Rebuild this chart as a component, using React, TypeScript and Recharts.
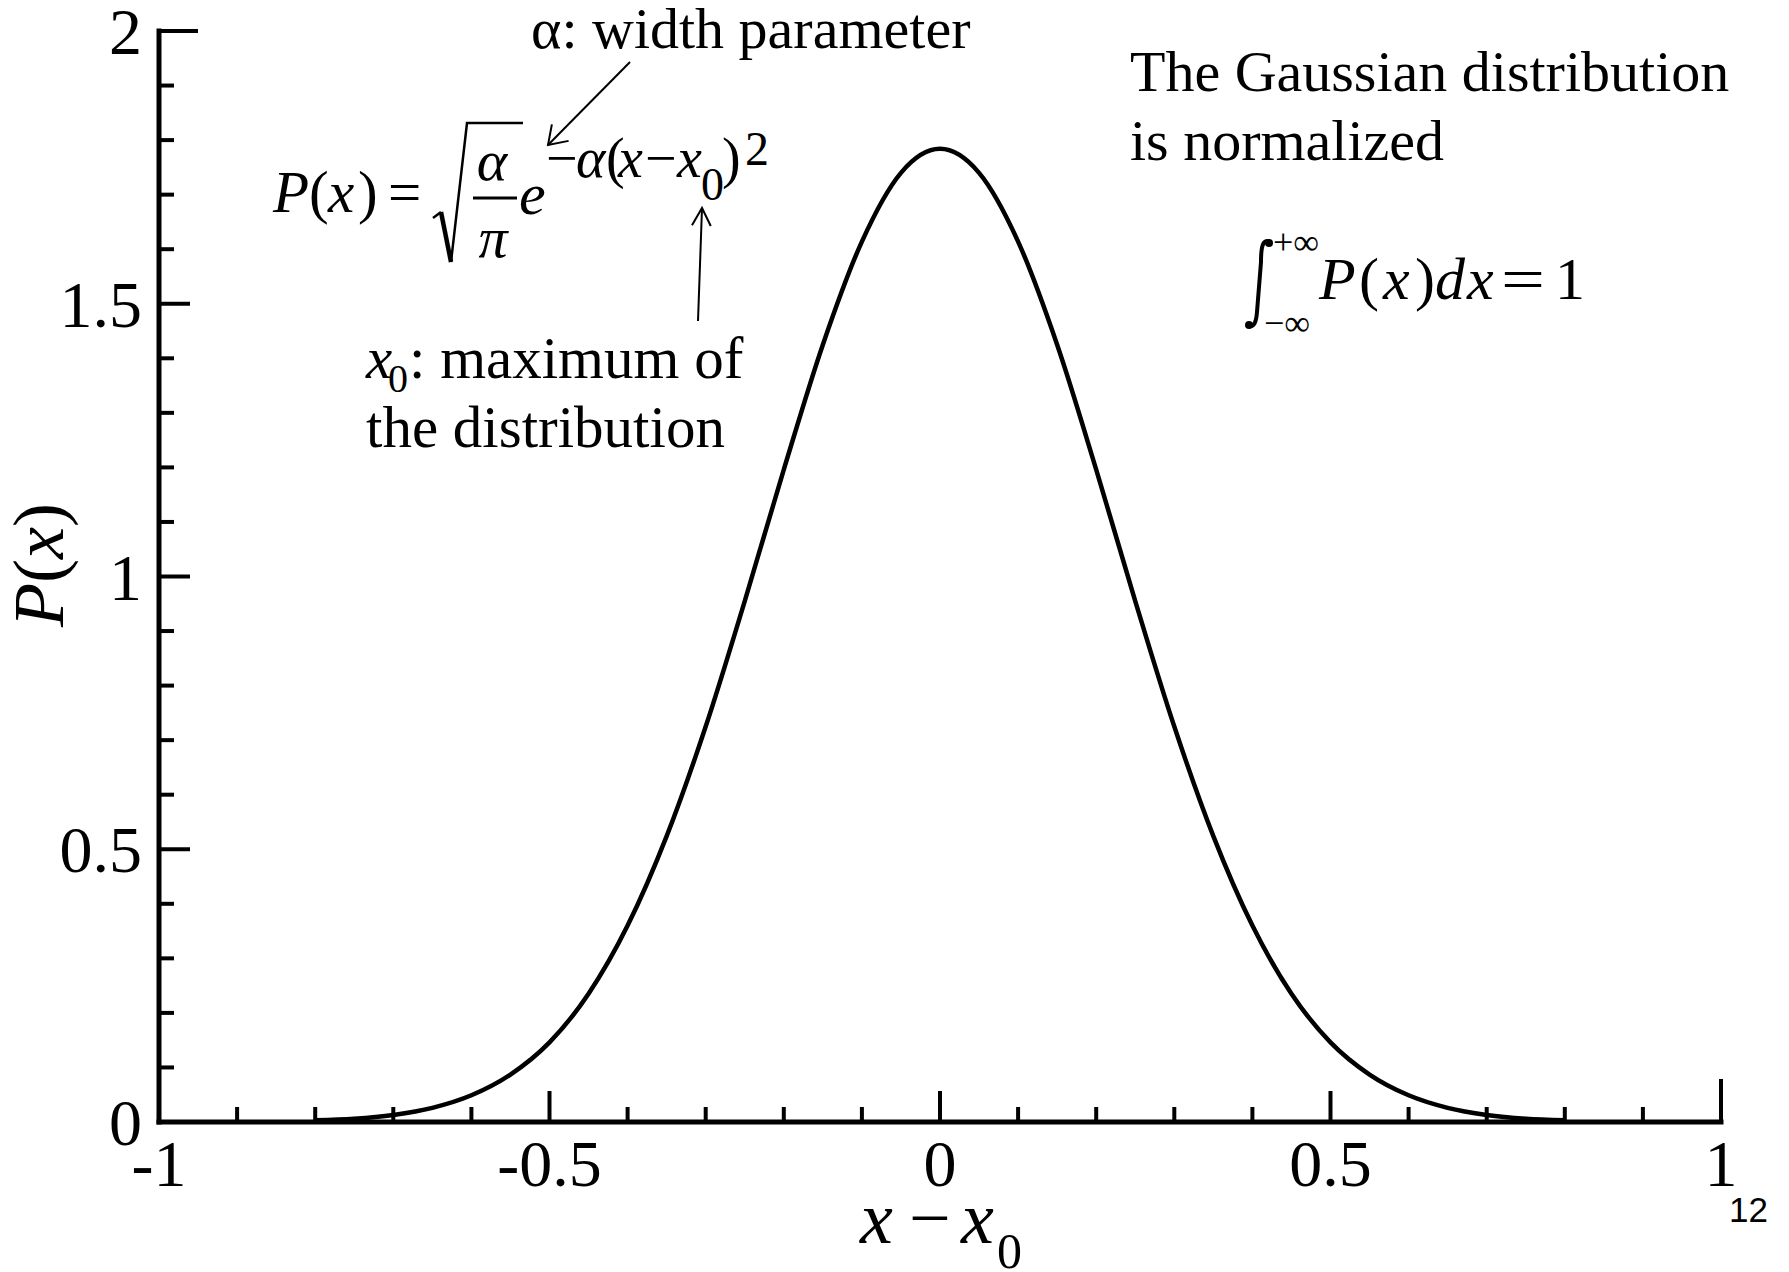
import React from 'react';
import { LineChart, Line, XAxis, YAxis } from 'recharts';

// Normalized Gaussian P(x) sampled at x - x0 (alpha = 10)
const xValues = [
  -0.8, -0.75, -0.7, -0.65, -0.6, -0.55, -0.5, -0.45, -0.4, -0.35, -0.3, -0.25, -0.2, -0.15, -0.1, -0.05,
  0, 0.05, 0.1, 0.15, 0.2, 0.25, 0.3, 0.35, 0.4, 0.45, 0.5, 0.55, 0.6, 0.65, 0.7, 0.75, 0.8,
];
const pValues = [
  0.003, 0.006, 0.013, 0.026, 0.049, 0.087, 0.146, 0.235, 0.36, 0.524, 0.725, 0.955, 1.196, 1.425, 1.614, 1.74,
  1.784, 1.74, 1.614, 1.425, 1.196, 0.955, 0.725, 0.524, 0.36, 0.235, 0.146, 0.087, 0.049, 0.026, 0.013, 0.006, 0.003,
];

// Axis ticks: every tick value, and the labelled (major) ones
const xTicks = [-1, -0.9, -0.8, -0.7, -0.6, -0.5, -0.4, -0.3, -0.2, -0.1, 0, 0.1, 0.2, 0.3, 0.4, 0.5, 0.6, 0.7, 0.8, 0.9, 1];
const xMajor = [-1, -0.5, 0, 0.5, 1];
const xMajorLabels = ['-1', '-0.5', '0', '0.5', '1'];
const yTicks = [0, 0.1, 0.2, 0.3, 0.4, 0.5, 0.6, 0.7, 0.8, 0.9, 1, 1.1, 1.2, 1.3, 1.4, 1.5, 1.6, 1.7, 1.8, 1.9, 2];
const yMajor = [0, 0.5, 1, 1.5, 2];
const yMajorLabels = ['0', '0.5', '1', '1.5', '2'];

const data = xValues.map((x, i) => ({ x, p: pValues[i] }));

const SERIF = '"Liberation Serif", "Times New Roman", Times, serif';
const SANS = '"Liberation Sans", Arial, sans-serif';

const findLabel = (v: number, majors: number[], labels: string[]) => {
  const i = majors.findIndex((m) => Math.abs(m - v) < 1e-6);
  return i >= 0 ? labels[i] : null;
};

const XTick = (props: any) => {
  const { x, y, payload } = props;
  const v = payload.value as number;
  const label = findLabel(v, xMajor, xMajorLabels);
  const isEnd = Math.abs(v - 1) < 1e-6;
  const len = isEnd ? 43 : label ? 31 : 15;
  return (
    <g>
      <line x1={x} x2={x} y1={y} y2={y - len} stroke="#000" strokeWidth={4} />
      {label && (
        <text x={x} y={y + 64} textAnchor="middle" fontFamily={SERIF} fontSize={66} fill="#000">
          {label}
        </text>
      )}
    </g>
  );
};

const YTick = (props: any) => {
  const { x, y, payload } = props;
  const v = payload.value as number;
  const label = findLabel(v, yMajor, yMajorLabels);
  const isEnd = Math.abs(v - 2) < 1e-6;
  const len = isEnd ? 39 : label ? 31 : 15;
  return (
    <g>
      <line x1={x} x2={x + len} y1={y} y2={y} stroke="#000" strokeWidth={4} />
      {label && (
        <text x={x - 17} y={y + 23} textAnchor="end" fontFamily={SERIF} fontSize={66} fill="#000">
          {label}
        </text>
      )}
    </g>
  );
};

// Open arrowhead helper for annotation arrows
const Arrow = ({ x1, y1, x2, y2, head = 20, spread = 32 }: any) => {
  const a = Math.atan2(y1 - y2, x1 - x2);
  const s = (spread * Math.PI) / 180;
  const p1 = [x2 + head * Math.cos(a + s), y2 + head * Math.sin(a + s)];
  const p2 = [x2 + head * Math.cos(a - s), y2 + head * Math.sin(a - s)];
  return (
    <g stroke="#000" strokeWidth={2} fill="none">
      <line x1={x1} y1={y1} x2={x2} y2={y2} />
      <polyline points={`${p1[0]},${p1[1]} ${x2},${y2} ${p2[0]},${p2[1]}`} />
    </g>
  );
};

const Annotations = () => (
  <svg
    width={1789}
    height={1272}
    style={{ position: 'absolute', left: 0, top: 0, pointerEvents: 'none' }}
    fontFamily={SERIF}
    fill="#000"
  >
    {/* y-axis title */}
    <text x={63} y={565} transform="rotate(-90, 63, 565)" textAnchor="middle" fontSize={72}>
      <tspan fontStyle="italic">P</tspan>(<tspan fontStyle="italic">x</tspan>)
    </text>

    {/* x-axis title */}
    <text y={1243} fontSize={74}>
      <tspan x={860} fontStyle="italic">x</tspan>
      <tspan x={909}>−</tspan>
      <tspan x={961} fontStyle="italic">x</tspan>
      <tspan x={997} y={1268} fontSize={50}>0</tspan>
    </text>

    {/* formula P(x) = sqrt(alpha/pi) e^{-alpha (x-x0)^2} */}
    <text y={212} fontSize={59}>
      <tspan x={273} fontStyle="italic">P</tspan>
      <tspan x={309}>(</tspan>
      <tspan x={328} fontStyle="italic">x</tspan>
      <tspan x={358}>)</tspan>
      <tspan x={388}>=</tspan>
    </text>
    <path d="M 433 218 L 441 212" stroke="#000" strokeWidth={2.5} fill="none" />
    <path d="M 441 212 L 451 262" stroke="#000" strokeWidth={4.5} fill="none" />
    <path d="M 451 262 L 467 123 L 523 123" stroke="#000" strokeWidth={2.5} fill="none" />
    <text x={492} y={180} fontSize={58} fontStyle="italic" textAnchor="middle">α</text>
    <line x1={473} x2={517} y1={198} y2={198} stroke="#000" strokeWidth={3} />
    <text x={493} y={257} fontSize={58} fontStyle="italic" textAnchor="middle">π</text>
    <text x={519} y={214} fontSize={60} fontStyle="italic">e</text>
    <text y={177} fontSize={56}>
      <tspan x={546}>−</tspan>
      <tspan x={576} fontStyle="italic">α</tspan>
      <tspan x={606}>(</tspan>
      <tspan x={618} fontStyle="italic">x</tspan>
      <tspan x={645}>−</tspan>
      <tspan x={677} fontStyle="italic">x</tspan>
      <tspan x={701} y={200} fontSize={46}>0</tspan>
      <tspan x={722} y={177}>)</tspan>
      <tspan x={745} y={165} fontSize={48}>2</tspan>
    </text>

    {/* width parameter note */}
    <text x={531} y={48} fontSize={58}>α: width parameter</text>
    <Arrow x1={630} y1={62} x2={548} y2={145} head={21} spread={34} />

    {/* maximum note */}
    <Arrow x1={698} y1={321} x2={702} y2={208} head={20} spread={28} />
    <text y={378} fontSize={59}>
      <tspan x={366} fontStyle="italic">x</tspan>
      <tspan x={388} y={392} fontSize={40}>0</tspan>
      <tspan x={409} y={378}>: maximum of</tspan>
    </text>
    <text x={366} y={447} fontSize={59}>the distribution</text>

    {/* normalization note */}
    <text x={1130} y={91} fontSize={58}>The Gaussian distribution</text>
    <text x={1130} y={160} fontSize={58}>is normalized</text>
    <path
      d="M 1271 243 C 1262 236, 1261 250, 1261 262 L 1257 312 C 1256 326, 1252 328, 1247 325"
      stroke="#000"
      strokeWidth={4}
      fill="none"
    />
    <circle cx={1269} cy={243} r={4} />
    <circle cx={1249} cy={325} r={4} />
    <text x={1273} y={254} fontSize={36}>+∞</text>
    <text x={1264} y={335} fontSize={36}>−∞</text>
    <text y={299} fontSize={60}>
      <tspan x={1319} fontStyle="italic">P</tspan>
      <tspan x={1359}>(</tspan>
      <tspan x={1383} fontStyle="italic">x</tspan>
      <tspan x={1415}>)</tspan>
      <tspan x={1435} fontStyle="italic">d</tspan>
      <tspan x={1467} fontStyle="italic">x</tspan>
    </text>
    <text transform="translate(1501,299) scale(1.3,1)" fontSize={60}>=</text>
    <text x={1555} y={299} fontSize={60}>1</text>

    {/* page number */}
    <text x={1729} y={1222} fontFamily={SANS} fontSize={35}>12</text>
  </svg>
);

export default function App() {
  return (
    <div style={{ position: 'absolute', left: 0, top: 0, width: 1789, height: 1272, background: '#fff' }}>
      <LineChart
        width={1789}
        height={1272}
        data={data}
        margin={{ top: 31, right: 68, bottom: 50, left: 59 }}
      >
        <XAxis
          dataKey="x"
          type="number"
          domain={[-1, 1]}
          ticks={xTicks}
          interval={0}
          height={100}
          tickSize={0}
          tickMargin={0}
          tickLine={false}
          tick={<XTick />}
          axisLine={{ stroke: '#000', strokeWidth: 5, strokeLinecap: 'square' }}
          allowDataOverflow
        />
        <YAxis
          type="number"
          domain={[0, 2]}
          ticks={yTicks}
          interval={0}
          width={100}
          tickSize={0}
          tickMargin={0}
          tickLine={false}
          tick={<YTick />}
          axisLine={{ stroke: '#000', strokeWidth: 5, strokeLinecap: 'square' }}
          allowDataOverflow
        />
        <Line
          type="monotone"
          dataKey="p"
          stroke="#000"
          strokeWidth={4.5}
          dot={false}
          activeDot={false}
          isAnimationActive={false}
        />
      </LineChart>
      <Annotations />
    </div>
  );
}
